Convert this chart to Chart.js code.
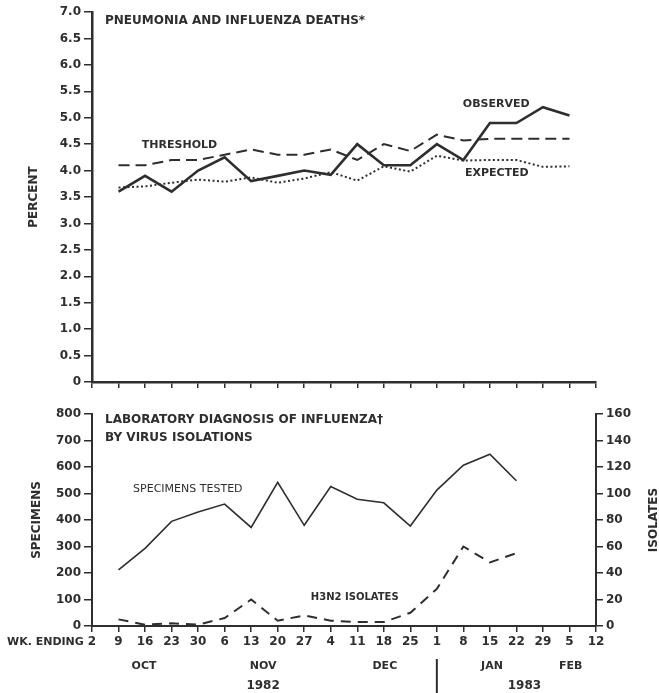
<!DOCTYPE html>
<html>
<head>
<meta charset="utf-8">
<script src="https://cdn.jsdelivr.net/npm/chart.js@4.4.0/dist/chart.umd.min.js"></script>
<style>
body { margin: 0; background: #fff; width: 659px; height: 693px; overflow: hidden; position: relative; }
canvas { position: absolute; left: 0; }
#top-chart { top: 0; }
#bottom-chart { top: 395px; }
</style>
</head>
<body>
<canvas id="top-chart" width="659" height="395"></canvas>
<canvas id="bottom-chart" width="659" height="298"></canvas>
<script>
// week-ending dates, Oct 2 1982 .. Feb 12 1983
const weeks = ['2', '9', '16', '23', '30', '6', '13', '20', '27', '4', '11', '18', '25', '1', '8', '15', '22', '29', '5', '12'];
const months = ['OCT', 'NOV', 'DEC', 'JAN', 'FEB'];
const years = ['1982', '1983'];

// pneumonia & influenza deaths, percent
const observed = [null, 3.6, 3.9, 3.6, 4.0, 4.25, 3.8, 3.9, 4.0, 3.92, 4.5, 4.1, 4.1, 4.5, 4.2, 4.9, 4.9, 5.2, 5.04, null];
const threshold = [null, 4.1, 4.1, 4.2, 4.2, 4.3, 4.4, 4.3, 4.3, 4.4, 4.2, 4.5, 4.37, 4.68, 4.57, 4.6, 4.6, 4.6, 4.6, null];
const expected = [null, 3.68, 3.7, 3.77, 3.83, 3.79, 3.87, 3.77, 3.85, 3.97, 3.81, 4.08, 3.98, 4.28, 4.19, 4.2, 4.2, 4.07, 4.08, null];

// lab diagnosis
const specimens = [null, 212, 293, 395, 430, 460, 372, 542, 380, 526, 478, 465, 377, 513, 607, 648, 548, null, null, null];
const isolates = [null, 5, 1, 2, 1, 6, 20, 4, 8, 4, 3, 3, 10, 28, 60, 48, 55, null, null, null];

const ink = '#2e2e2e';
const bold12 = { family: 'DejaVu Sans', size: 12, weight: 'bold' };

Chart.defaults.animation = false;
Chart.defaults.color = ink;

function text(ctx, str, x, y, font, align) {
    ctx.save();
    ctx.font = font;
    ctx.fillStyle = ink;
    ctx.textAlign = align || 'left';
    ctx.textBaseline = 'middle';
    ctx.fillText(str, x, y);
    ctx.restore();
}

// labels for the upper panel
const topLabels = {
    id: 'topLabels',
    afterDraw(chart) {
        const ctx = chart.ctx, x = chart.scales.x, y = chart.scales.y;
        text(ctx, 'PNEUMONIA AND INFLUENZA DEATHS*', 105, 21, 'bold 12px "DejaVu Sans"');
        text(ctx, 'THRESHOLD', x.getPixelForValue(1.88), y.getPixelForValue(4.48), 'bold 11px "DejaVu Sans"');
        text(ctx, 'OBSERVED', x.getPixelForValue(13.98), y.getPixelForValue(5.25), 'bold 11px "DejaVu Sans"');
        text(ctx, 'EXPECTED', x.getPixelForValue(14.06), y.getPixelForValue(3.96), 'bold 11px "DejaVu Sans"');
    }
};

// labels for the lower panel
const bottomLabels = {
    id: 'bottomLabels',
    afterDraw(chart) {
        const ctx = chart.ctx, x = chart.scales.x, y = chart.scales.y;
        text(ctx, 'LABORATORY DIAGNOSIS OF INFLUENZA\u2020', 105, 25, 'bold 12px "DejaVu Sans"');
        text(ctx, 'BY VIRUS ISOLATIONS', 105, 43, 'bold 12px "DejaVu Sans"');
        text(ctx, 'SPECIMENS TESTED', x.getPixelForValue(1.55), y.getPixelForValue(517), '11px "DejaVu Sans"');
        text(ctx, 'H3N2 ISOLATES', x.getPixelForValue(8.25), y.getPixelForValue(109), 'bold 10px "DejaVu Sans"');
        text(ctx, 'WK. ENDING', 7, 247, 'bold 11px "DejaVu Sans"');

        const monthAt = [1.96, 6.45, 11.04, 15.08, 18.05];
        months.forEach((m, i) => text(ctx, m, x.getPixelForValue(monthAt[i]), 271, 'bold 11px "DejaVu Sans"', 'center'));
        const yearAt = [6.45, 16.3];
        years.forEach((yr, i) => text(ctx, yr, x.getPixelForValue(yearAt[i]), 291, 'bold 12px "DejaVu Sans"', 'center'));

        // year divider at Jan 1
        const dx = x.getPixelForValue(13);
        ctx.save();
        ctx.strokeStyle = ink;
        ctx.lineWidth = 2;
        ctx.beginPath();
        ctx.moveTo(dx, 264);
        ctx.lineTo(dx, 298);
        ctx.stroke();

        // right axis title, reads bottom to top like the left one
        ctx.translate(654, (chart.chartArea.top + chart.chartArea.bottom) / 2);
        ctx.rotate(-Math.PI / 2);
        ctx.font = 'bold 12px "DejaVu Sans"';
        ctx.fillStyle = ink;
        ctx.textAlign = 'center';
        ctx.textBaseline = 'middle';
        ctx.fillText('ISOLATES', 0, 0);
        ctx.restore();
    }
};

const tickGrid = (len) => ({ display: true, drawOnChartArea: false, drawTicks: true, tickLength: len, color: ink, lineWidth: 1.5 });

new Chart(document.getElementById('top-chart').getContext('2d'), {
    type: 'line',
    data: {
        labels: weeks,
        datasets: [
            { label: 'Observed', data: observed, borderColor: ink, borderWidth: 2.6, pointRadius: 0, tension: 0 },
            { label: 'Threshold', data: threshold, borderColor: ink, borderWidth: 2, borderDash: [11, 6], pointRadius: 0, tension: 0 },
            { label: 'Expected', data: expected, borderColor: ink, borderWidth: 2, borderDash: [2, 2.5], pointRadius: 0, tension: 0 }
        ]
    },
    options: {
        responsive: false,
        layout: { padding: { top: 12, right: 63, left: 0, bottom: 0 } },
        plugins: { legend: { display: false }, tooltip: { enabled: false } },
        scales: {
            x: {
                ticks: { display: false },
                grid: tickGrid(6),
                border: { display: true, width: 2.5, color: ink },
                afterFit: s => { s.height = 13; }
            },
            y: {
                min: 0, max: 7,
                ticks: { stepSize: 0.5, callback: v => (v === 0 ? '0' : v.toFixed(1)), font: bold12, color: ink, padding: 3 },
                grid: tickGrid(8),
                border: { display: true, width: 2.5, color: ink },
                title: { display: true, text: 'PERCENT', font: bold12, color: ink, padding: { top: 27, bottom: 0 } },
                afterFit: s => { s.width = 92; }
            }
        }
    },
    plugins: [topLabels]
});

new Chart(document.getElementById('bottom-chart').getContext('2d'), {
    type: 'line',
    data: {
        labels: weeks,
        datasets: [
            { label: 'Specimens tested', data: specimens, yAxisID: 'y', borderColor: ink, borderWidth: 1.6, pointRadius: 0, tension: 0 },
            { label: 'H3N2 isolates', data: isolates, yAxisID: 'y1', borderColor: ink, borderWidth: 2, borderDash: [10, 7], pointRadius: 0, tension: 0 }
        ]
    },
    options: {
        responsive: false,
        layout: { padding: { top: 19, right: 0, left: 0, bottom: 0 } },
        plugins: { legend: { display: false }, tooltip: { enabled: false } },
        scales: {
            x: {
                ticks: { font: bold12, color: ink, padding: 3, maxRotation: 0, autoSkip: false },
                grid: tickGrid(6),
                border: { display: true, width: 2, color: ink },
                afterFit: s => { s.height = 67; }
            },
            y: {
                position: 'left',
                min: 0, max: 800,
                ticks: { stepSize: 100, font: bold12, color: ink, padding: 3 },
                grid: tickGrid(8),
                border: { display: true, width: 2, color: ink },
                title: { display: true, text: 'SPECIMENS', font: bold12, color: ink, padding: { top: 30, bottom: 0 } },
                afterFit: s => { s.width = 92; }
            },
            y1: {
                position: 'right',
                min: 0, max: 160,
                ticks: { stepSize: 20, font: bold12, color: ink, padding: 3 },
                grid: tickGrid(7),
                border: { display: true, width: 2, color: ink },
                afterFit: s => { s.width = 63; }
            }
        }
    },
    plugins: [bottomLabels]
});
</script>
</body>
</html>
